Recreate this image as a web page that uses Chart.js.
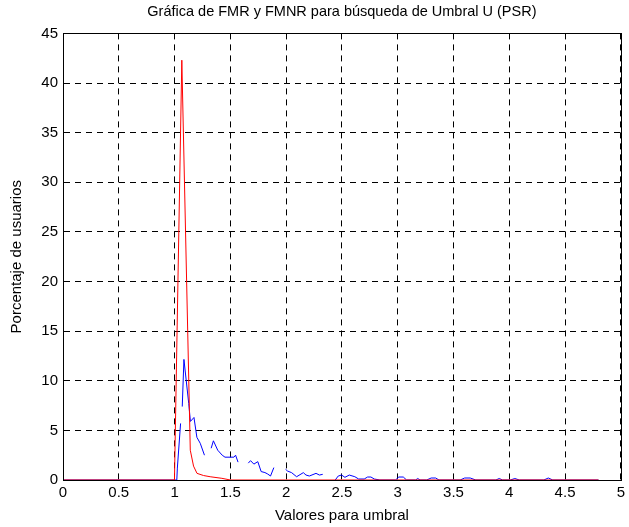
<!DOCTYPE html>
<html>
<head>
<meta charset="utf-8">
<script src="https://cdn.jsdelivr.net/npm/chart.js@4/dist/chart.umd.min.js"></script>
<style>
  html, body { margin: 0; padding: 0; background: #fff; }
  #wrap { width: 629px; height: 527px; }
</style>
</head>
<body>
<div id="wrap"><canvas id="grafica"></canvas></div>
<script>
// valores (x = umbral, y = porcentaje)
var fmrX = [0, 0.999, 1.065, 1.141, 1.17, 1.201, 1.26, 1.319, 1.424, 1.5, 4.8];
var fmrY = [0, 0, 42.3, 3.0, 1.4, 0.67, 0.45, 0.33, 0.17, 0, 0];

// null = hueco en la linea
var fmnrX = [0, 1.02, 1.025, 1.054, 1.06, 1.069, 1.084, 1.127, 1.142, 1.174, 1.2, 1.23, 1.268,
             1.3, 1.328, 1.348, 1.387, 1.427, 1.452, 1.532, 1.547, 1.569,
             1.62, 1.661, 1.681, 1.711, 1.746, 1.776, 1.81, 1.835, 1.86, 1.89,
             1.95, 1.995, 2.013, 2.049, 2.094, 2.154, 2.178, 2.208, 2.268, 2.298, 2.328,
             2.4, 2.44, 2.467, 2.497, 2.527, 2.566, 2.616, 2.65, 2.7, 2.73, 2.76, 2.79, 2.84,
             2.98, 3.01, 3.05, 3.08, 3.16, 3.18, 3.2, 3.26, 3.3, 3.34, 3.37,
             3.56, 3.6, 3.65, 3.7, 3.88, 3.91, 3.94, 4.01, 4.05, 4.09, 4.31, 4.35, 4.39, 4.8];
var fmnrY = [0, 0, 1.2, 5.7, null, 7.4, 12.15, 7.7, 5.9, 6.3, 4.3, 3.7, 2.5,
             null, 3.2, 3.95, 3.0, 2.5, 2.3, 2.3, 2.5, 1.8,
             null, 1.7, 1.95, 1.6, 1.85, 0.85, 0.75, 0.6, 0.4, 1.25,
             null, 1.08, 0.9, 0.74, 0.33, 0.74, 0.5, 0.4, 0.67, 0.5, 0.57,
             null, 0, 0.4, 0.5, 0.27, 0.5, 0.33, 0.1, 0.1, 0.3, 0.3, 0.1, 0,
             0, 0.3, 0.3, 0, 0, 0.15, 0, 0, 0.2, 0.2, 0,
             0, 0.2, 0.2, 0, 0, 0.15, 0, 0, 0.15, 0, 0, 0.2, 0, 0];

var xTicks = [0, 0.5, 1, 1.5, 2, 2.5, 3, 3.5, 4, 4.5, 5];
var yTicks = [0, 5, 10, 15, 20, 25, 30, 35, 40, 45];

function puntos(xs, ys) {
    return xs.map(function(x, i){ return {x: x, y: ys[i]}; });
}

var familia = '"Liberation Sans", Arial, sans-serif';
var fuenteTicks = {family: familia, size: 15};
var fuenteEjes = {family: familia, size: 15};

// marco completo estilo matlab
var marco = {
    id: 'marco',
    afterDraw: function(chart){
        var a = chart.chartArea, ctx = chart.ctx;
        ctx.save();
        ctx.strokeStyle = '#000';
        ctx.lineWidth = 1;
        ctx.strokeRect(Math.round(a.left) + 0.5, Math.round(a.top) + 0.5,
                       Math.round(a.right - a.left), Math.round(a.bottom - a.top));
        ctx.restore();
    }
};

new Chart(document.getElementById('grafica'), {
    type: 'scatter',
    data: {
        datasets: [
            {
                label: 'FMR',
                data: puntos(fmrX, fmrY),
                showLine: true,
                borderColor: '#ff0000',
                borderWidth: 1,
                pointRadius: 0,
                tension: 0,
                spanGaps: false
            },
            {
                label: 'FMNR',
                data: puntos(fmnrX, fmnrY),
                showLine: true,
                borderColor: '#0000ff',
                borderWidth: 1,
                pointRadius: 0,
                tension: 0,
                spanGaps: false
            }
        ]
    },
    options: {
        responsive: true,
        maintainAspectRatio: false,
        animation: false,
        layout: {padding: {top: 0, right: 4, left: 0, bottom: 0}},
        plugins: {
            legend: {display: false},
            tooltip: {enabled: false},
            title: {
                display: true,
                fullSize: false,
                text: 'Gráfica de FMR y FMNR para búsqueda de Umbral U (PSR)',
                color: '#000',
                font: {family: familia, size: 14.5, weight: 'normal'},
                padding: {top: 3, bottom: 13}
            }
        },
        scales: {
            x: {
                type: 'linear',
                min: 0,
                max: 5,
                afterBuildTicks: function(s){ s.ticks = xTicks.map(function(v){ return {value: v}; }); },
                afterFit: function(s){ s.height = 47; },
                ticks: {color: '#000', font: fuenteTicks, padding: 4, maxRotation: 0, autoSkip: false,
                        callback: function(v){ return String(v); }},
                grid: {color: '#000', lineWidth: 1, drawTicks: false},
                border: {display: true, color: '#000', dash: [6, 5]},
                title: {display: true, text: 'Valores para umbral', color: '#000', font: fuenteEjes, padding: {top: 3, bottom: 2}}
            },
            y: {
                type: 'linear',
                min: 0,
                max: 45,
                afterBuildTicks: function(s){ s.ticks = yTicks.map(function(v){ return {value: v}; }); },
                afterFit: function(s){ s.width = 63; },
                ticks: {color: '#000', font: fuenteTicks, padding: 5, autoSkip: false,
                        callback: function(v){ return String(v); }},
                grid: {color: '#000', lineWidth: 1, drawTicks: false},
                border: {display: true, color: '#000', dash: [6, 5]},
                title: {display: true, text: 'Porcentaje de usuarios', color: '#000', font: fuenteEjes, padding: {top: 8, bottom: 0}}
            }
        }
    },
    plugins: [marco]
});
</script>
</body>
</html>
